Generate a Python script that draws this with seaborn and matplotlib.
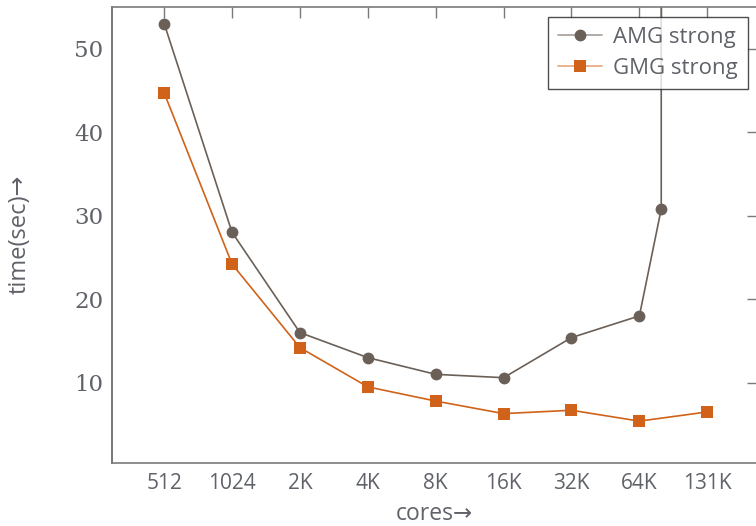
import matplotlib
matplotlib.use("Agg")
import matplotlib.pyplot as plt
import seaborn as sns
import pandas as pd

# cores (log2 axis) and run times in seconds
cores_amg = [512, 1024, 2048, 4096, 8192, 16384, 32768, 65536, 81920, 81920]
time_amg = [53.0, 28.0, 16.0, 13.0, 11.0, 10.6, 15.4, 18.0, 30.8, 300.0]
cores_gmg = [512, 1024, 2048, 4096, 8192, 16384, 32768, 65536, 131072]
time_gmg = [44.7, 24.2, 14.2, 9.5, 7.8, 6.3, 6.7, 5.4, 6.5]

tick_pos = [512, 1024, 2048, 4096, 8192, 16384, 32768, 65536, 81920, 131072]
tick_lab = ["512", "1024", "2K", "4K", "8K", "16K", "32K", "64K", "", "131K"]
ytick_pos = [10, 20, 30, 40, 50]

AMG_COL = "#6b6058"
GMG_COL = "#d0621a"
LIGHT = {"AMG strong": "#a49c97", "GMG strong": "#e9a77c"}
TXT = "#5f6268"
AX = "#7a7a7a"

sns.set_theme(style="white")
plt.rcParams["font.family"] = ["Open Sans", "DejaVu Sans"]

df = pd.concat([
    pd.DataFrame({"cores": cores_amg, "time": time_amg, "series": "AMG strong"}),
    pd.DataFrame({"cores": cores_gmg, "time": time_gmg, "series": "GMG strong"}),
])

fig = plt.figure(figsize=(7.56, 5.26), dpi=100)
ax = fig.add_axes([0.148, 0.120, 0.854, 0.867])

sns.lineplot(data=df[df.series == "AMG strong"], x="cores", y="time", ax=ax,
             sort=False, estimator=None, color=AMG_COL, lw=1.2,
             marker="o", markersize=8.5, markeredgewidth=0, label="AMG strong")
sns.lineplot(data=df[df.series == "GMG strong"], x="cores", y="time", ax=ax,
             sort=False, estimator=None, color=GMG_COL, lw=1.2,
             marker="s", markersize=8, markeredgewidth=0, label="GMG strong")

ax.set_xscale("log", base=2)
ax.set_xlim(2 ** 8.23, 2 ** 17.74)
ax.set_ylim(0.4, 55.0)
ax.set_xticks(tick_pos)
ax.set_xticklabels(tick_lab)
ax.minorticks_off()
ax.set_yticks(ytick_pos)
ax.set_yticklabels([str(v) for v in ytick_pos], family=["DejaVu Serif"], fontsize=16.5)

ax.tick_params(axis="both", direction="in", length=8, width=1, color=AX,
               top=True, right=True, labelcolor=TXT)
ax.tick_params(axis="x", labelsize=15, pad=7)
ax.tick_params(axis="y", pad=6)
for s in ax.spines.values():
    s.set_color(AX)
    s.set_linewidth(1.2)
ax.spines["left"].set_color("#606060")

ax.set_xlabel("cores\u2192", fontsize=16.5, color=TXT, labelpad=6)
ax.set_ylabel("time(sec)\u2192", fontsize=17, color=TXT)
ax.yaxis.set_label_coords(-0.125, 0.5)

leg = ax.legend(loc="upper right", fontsize=16, frameon=True, fancybox=False,
                borderpad=0.45, handlelength=2.0, handletextpad=0.5,
                labelspacing=0.45, borderaxespad=0,
                bbox_to_anchor=(0.985, 0.978))
leg.get_frame().set_edgecolor("#222222")
leg.get_frame().set_linewidth(1.0)
for t in leg.get_texts():
    t.set_color(TXT)
for h, t in zip(leg.legend_handles, leg.get_texts()):
    full = h.get_color()
    h.set_color(LIGHT[t.get_text()])
    h.set_markerfacecolor(full)

fig.savefig("out.png", dpi=100)
